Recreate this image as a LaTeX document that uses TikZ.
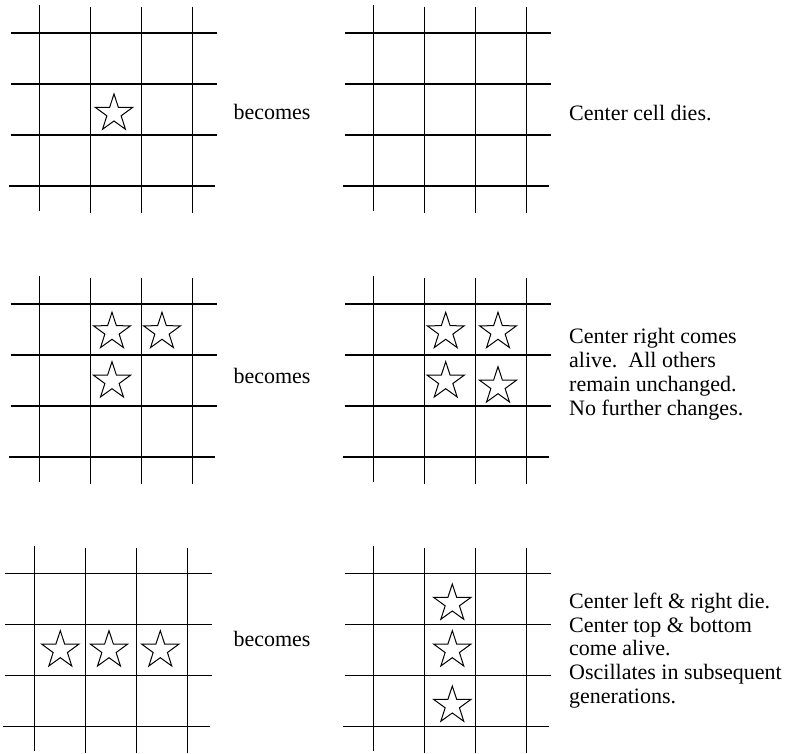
\documentclass[tikz,border=0pt]{standalone}
\usepackage{fontspec}
\setmainfont{Liberation Serif}
\usetikzlibrary{shapes.geometric}
\tikzset{
  gridline/.style={line width=1.2pt, line cap=butt},
  lifestar/.style={star, star points=5, star point ratio=2.6, minimum size=39pt, inner sep=0pt, draw, line width=1pt, line join=miter},
  becomes/.style={anchor=base west, inner sep=0pt, font=\fontsize{22}{23.7}\selectfont},
  note/.style={anchor=base west, inner sep=0pt, align=left, font=\fontsize{22}{23.7}\selectfont},
  pics/lifegrid/.style={code={
    \draw[gridline] (39.5,5.5) -- (39.5,211);
    \foreach \gx in {90.5,141.5,192.5} \draw[gridline] (\gx,7.5) -- (\gx,213);
    \foreach \gy in {33,84,135} \draw[gridline] (10.5,\gy) -- (217,\gy);
    \draw[gridline] (8.5,186) -- (215,186);
  }}
}
\begin{document}
\begin{tikzpicture}[x=1pt,y=-1pt]
\useasboundingbox (0,0) rectangle (788,754);
% grids
\pic at (0,0) {lifegrid};
\pic at (334,0) {lifegrid};
\pic at (0,271) {lifegrid};
\pic at (334,271) {lifegrid};
\pic at (-5.3,540.3) {lifegrid};
\pic at (334.3,540.3) {lifegrid};
% stars
\node[lifestar] (s1a) at (114,113.5) {};
\node[lifestar] (s3a) at (112,331.8) {};
\node[lifestar] (s3b) at (162,331.8) {};
\node[lifestar] (s3c) at (112,381.2) {};
\node[lifestar] (s4a) at (445.7,331.8) {};
\node[lifestar] (s4b) at (498,331.8) {};
\node[lifestar] (s4c) at (445.7,381.2) {};
\node[lifestar] (s4d) at (498,386.2) {};
\node[lifestar] (s5a) at (60.3,650.2) {};
\node[lifestar] (s5b) at (109,650.2) {};
\node[lifestar] (s5c) at (160.3,650.2) {};
\node[lifestar] (s6a) at (452.3,603.5) {};
\node[lifestar] (s6b) at (452.3,650.2) {};
\node[lifestar] (s6c) at (452.3,705.5) {};
% texts
\node[becomes] (b1) at (233.3,120) {becomes};
\node[becomes] (b2) at (233.3,384) {becomes};
\node[becomes] (b3) at (233.3,646) {becomes};
\node[note] (n1) at (569,121) {Center cell dies.};
\node[note] (n2) at (569,415) {Center right comes\\alive.\ \ All others\\remain unchanged.\\No further changes.};
\node[note] (n3) at (569,703.3) {Center left \& right die.\\Center top \& bottom\\come alive.\\Oscillates in subsequent\\generations.};
\end{tikzpicture}
\end{document}
